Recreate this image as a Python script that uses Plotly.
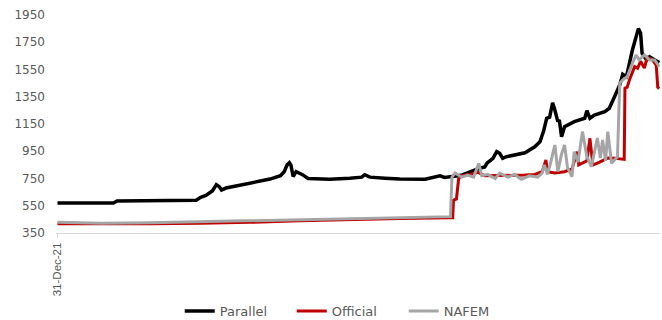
import plotly.graph_objects as go

parallel_dates = ["2021-12-31","2022-03-16","2022-03-21","2022-07-05","2022-07-11","2022-07-18","2022-07-27","2022-08-01","2022-08-05","2022-08-08","2022-08-14","2022-09-02","2022-09-15","2022-09-29","2022-10-12","2022-10-26","2022-10-31","2022-11-04","2022-11-07","2022-11-09","2022-11-12","2022-11-16","2022-11-24","2022-12-02","2022-12-31","2023-01-27","2023-02-12","2023-02-16","2023-02-23","2023-03-15","2023-04-04","2023-05-08","2023-05-21","2023-05-28","2023-06-03","2023-06-13","2023-06-21","2023-06-27","2023-07-07","2023-07-20","2023-07-27","2023-07-30","2023-08-07","2023-08-12","2023-08-16","2023-08-20","2023-08-25","2023-09-05","2023-09-19","2023-10-02","2023-10-09","2023-10-14","2023-10-18","2023-10-22","2023-10-26","2023-10-29","2023-11-02","2023-11-04","2023-11-07","2023-11-11","2023-11-24","2023-12-08","2023-12-11","2023-12-15","2023-12-21","2024-01-04","2024-01-10","2024-01-17","2024-01-24","2024-01-28","2024-02-02","2024-02-10","2024-02-15","2024-02-18","2024-02-21","2024-02-23","2024-02-29","2024-03-04","2024-03-11","2024-03-17"]
parallel_values = [570,570,585,590,612,625,660,705,690,665,680,700,717,734,746,770,800,850,866,850,765,800,780,750,744,752,760,778,760,752,746,744,763,770,758,762,770,776,800,825,835,862,898,947,935,898,910,922,939,983,1020,1100,1192,1200,1306,1253,1167,1179,1057,1130,1167,1192,1248,1192,1216,1240,1265,1350,1436,1515,1497,1693,1791,1850,1816,1669,1620,1644,1620,1600]

official_dates = ["2021-12-31","2022-02-27","2022-05-04","2022-07-11","2022-09-15","2022-11-21","2023-01-27","2023-04-04","2023-06-11","2023-06-14","2023-06-15","2023-06-19","2023-06-22","2023-06-26","2023-07-07","2023-07-18","2023-07-27","2023-08-10","2023-08-23","2023-09-05","2023-09-19","2023-10-02","2023-10-12","2023-10-17","2023-10-19","2023-10-29","2023-11-11","2023-11-21","2023-11-28","2023-11-30","2023-12-11","2023-12-15","2023-12-19","2023-12-28","2024-01-08","2024-01-18","2024-01-30","2024-01-31","2024-02-03","2024-02-06","2024-02-13","2024-02-17","2024-02-21","2024-02-26","2024-03-01","2024-03-08","2024-03-13","2024-03-15","2024-03-17"]
official_values = [418,416,418,422,428,440,450,456,462,462,590,600,750,770,780,795,770,770,775,770,775,780,800,886,800,790,800,820,947,850,880,1045,849,870,900,898,890,1412,1420,1473,1571,1560,1610,1560,1640,1620,1580,1420,1410]

nafem_dates = ["2021-12-31","2022-02-27","2022-05-04","2022-07-11","2022-09-15","2022-11-21","2023-01-27","2023-04-04","2023-06-11","2023-06-13","2023-06-17","2023-06-26","2023-07-04","2023-07-12","2023-07-19","2023-07-23","2023-07-31","2023-08-10","2023-08-16","2023-08-27","2023-09-05","2023-09-14","2023-09-25","2023-10-06","2023-10-12","2023-10-15","2023-10-19","2023-10-23","2023-10-29","2023-11-02","2023-11-07","2023-11-11","2023-11-15","2023-11-21","2023-11-24","2023-11-29","2023-12-05","2023-12-11","2023-12-17","2023-12-25","2023-12-29","2024-01-01","2024-01-05","2024-01-08","2024-01-13","2024-01-21","2024-01-24","2024-01-28","2024-02-03","2024-02-10","2024-02-15","2024-02-19","2024-02-26","2024-03-04","2024-03-11","2024-03-17"]
nafem_values = [428,422,425,432,442,450,458,462,470,760,790,760,775,760,862,770,780,750,790,760,780,745,770,760,790,850,780,860,996,800,930,996,830,763,947,870,1094,910,837,1047,900,1033,880,1094,862,910,1449,1473,1497,1596,1657,1620,1657,1620,1620,1570]

x_tick_vals = ["2021-12-31"]
x_tick_text = ["31-Dec-21"]
y_ticks = [350, 550, 750, 950, 1150, 1350, 1550, 1750, 1950]

fig = go.Figure()
fig.add_trace(go.Scatter(x=parallel_dates, y=parallel_values, mode="lines", name="Parallel",
                         line=dict(color="#000000", width=3.5)))
fig.add_trace(go.Scatter(x=official_dates, y=official_values, mode="lines", name="Official",
                         line=dict(color="#C00000", width=3)))
fig.add_trace(go.Scatter(x=nafem_dates, y=nafem_values, mode="lines", name="NAFEM",
                         line=dict(color="#A5A5A5", width=3)))

fig.update_layout(
    width=662, height=320,
    margin=dict(l=56, r=2, t=15, b=87),
    plot_bgcolor="white", paper_bgcolor="white",
    font=dict(family="DejaVu Sans", size=11, color="#595959"),
    showlegend=True,
    legend=dict(orientation="h", x=0.483, xanchor="center", yref="container", y=0.028, yanchor="middle",
                font=dict(size=13, color="#595959"), traceorder="normal",
                entrywidth=67, entrywidthmode="pixels", itemwidth=30),
    xaxis=dict(type="date", range=["2021-12-29", "2024-03-18"], automargin=False,
               tickvals=x_tick_vals, ticktext=x_tick_text, tickangle=-90,
               tickfont=dict(family="Liberation Sans Narrow, Liberation Sans", size=11.5, color="#595959"),
               showgrid=False, zeroline=False, showline=True, linecolor="#D9D9D9", linewidth=1,
               ticks="outside", ticklen=4, tickcolor="#D9D9D9"),
    yaxis=dict(range=[350, 1950], tickvals=y_ticks, showgrid=False, zeroline=False, automargin=False,
               showline=False, ticks="", ticklabelstandoff=10,
               tickfont=dict(size=12, color="#595959")),
)

fig.write_html("out.html")
